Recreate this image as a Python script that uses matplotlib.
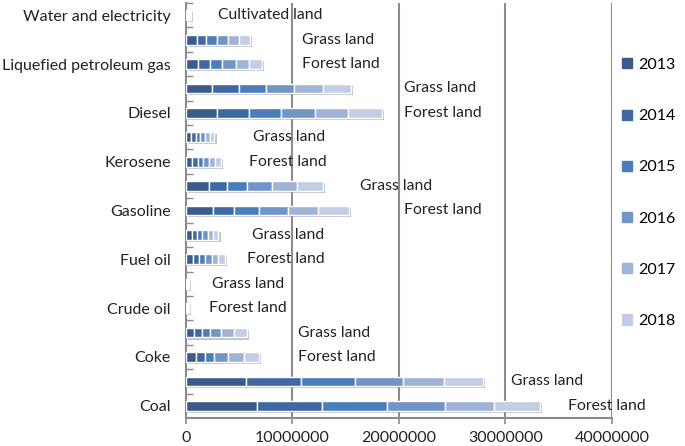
import matplotlib
matplotlib.use('Agg')
import matplotlib.pyplot as plt
import matplotlib.patheffects as pe
from matplotlib.patches import Rectangle
from matplotlib.ticker import FuncFormatter, MultipleLocator

plt.rcParams['font.family'] = ['Lato', 'DejaVu Sans']

# bars from top to bottom (one row each)
bar_category = ['Water and electricity',
                'Liquefied petroleum gas', 'Liquefied petroleum gas',
                'Diesel', 'Diesel', 'Kerosene', 'Kerosene',
                'Gasoline', 'Gasoline', 'Fuel oil', 'Fuel oil',
                'Crude oil', 'Crude oil', 'Coke', 'Coke', 'Coal', 'Coal']
bar_land = ['Cultivated land'] + ['Grass land', 'Forest land'] * 8

years = ['2013', '2014', '2015', '2016', '2017', '2018']

# values in millions, per year
v2013 = [0.09, 1.00, 1.16, 2.47, 2.91, 0.50, 0.60, 2.16, 2.50, 0.55, 0.65, 0.04, 0.05, 0.75, 0.94, 5.63, 6.67]
v2014 = [0.08, 0.87, 1.10, 2.50, 3.00, 0.42, 0.50, 1.72, 2.04, 0.48, 0.58, 0.04, 0.05, 0.75, 0.85, 5.16, 6.10]
v2015 = [0.08, 1.00, 1.10, 2.50, 3.00, 0.42, 0.50, 1.88, 2.29, 0.50, 0.60, 0.04, 0.05, 0.75, 0.85, 5.07, 6.10]
v2016 = [0.08, 1.03, 1.34, 2.69, 3.19, 0.44, 0.55, 2.35, 2.79, 0.50, 0.60, 0.04, 0.05, 1.03, 1.27, 4.50, 5.45]
v2017 = [0.08, 1.03, 1.19, 2.66, 3.13, 0.44, 0.55, 2.32, 2.82, 0.50, 0.60, 0.04, 0.05, 1.22, 1.50, 3.85, 4.60]
v2018 = [0.08, 1.06, 1.25, 2.63, 3.19, 0.45, 0.56, 2.41, 2.88, 0.52, 0.62, 0.04, 0.05, 1.22, 1.41, 3.66, 4.30]

# where the land labels sit (millions)
label_x = [3.0, 10.86, 10.86, 20.47, 20.47, 6.26, 5.92, 16.34, 20.47,
           6.2, 5.7, 2.47, 2.16, 10.54, 10.54, 30.5, 35.9]

colors = ['#3A5B8C', '#3F69A2', '#4A7EBB', '#7295C8', '#9FB3D6', '#C3CEE5']

series = [v2013, v2014, v2015, v2016, v2017, v2018]
n = len(bar_category)
pos = list(range(n))

fig = plt.figure(figsize=(6.85, 4.46), dpi=100)
ax = fig.add_axes([186 / 685, 1 - 418 / 446, 426 / 685, 415 / 446])

shadow = [pe.SimplePatchShadow(offset=(1.5, -1.5), shadow_rgbFace='#777777', alpha=0.45), pe.Normal()]
left = [0.0] * n
for vals, c, yr in zip(series, colors, years):
    w = [v * 1e6 for v in vals]
    bars = ax.barh(pos, w, left=left, height=0.4, color=c, edgecolor='white',
                   linewidth=1.0, label=yr, zorder=3)
    for b in bars:
        b.set_path_effects(shadow)
    left = [l + x for l, x in zip(left, w)]

for i in range(n):
    ax.text(label_x[i] * 1e6, pos[i], bar_land[i], va='center', ha='left',
            fontsize=11.3, color='#222222', zorder=4)

ax.set_ylim(n - 0.5, -0.5)
ax.set_xlim(0, 40000000)
ax.xaxis.set_major_locator(MultipleLocator(10000000))
ax.xaxis.set_major_formatter(FuncFormatter(lambda v, p: f'{int(v)}'))

# category labels on the forest / single rows
tick_pos = [0] + list(range(2, n, 2))
ax.set_yticks(tick_pos)
ax.set_yticklabels([bar_category[i] for i in tick_pos])
ax.set_yticks([p - 0.5 for p in range(n)], minor=True)
ax.tick_params(axis='y', which='major', length=0, pad=11, labelsize=11.5, labelcolor='#222222')
ax.tick_params(axis='y', which='minor', direction='in', length=5, color='#8C8C8C', width=1)
ax.tick_params(axis='x', length=4, color='#8C8C8C', width=1.2, pad=5, labelsize=11.5, labelcolor='#222222')

ax.grid(axis='x', color='#8C8C8C', linewidth=1.5, zorder=1)
for s in ['top', 'right']:
    ax.spines[s].set_visible(False)
for s in ['left', 'bottom']:
    ax.spines[s].set_color('#8C8C8C')
    ax.spines[s].set_linewidth(1.5)

handles = [Rectangle((0, 0), 1, 1, color=c) for c in colors]
fig.legend(handles, years, loc='upper left', bbox_to_anchor=(622 / 685, 1 - 58 / 446),
           frameon=False, fontsize=11.5, handlelength=0.6, handleheight=0.6,
           handletextpad=0.4, labelspacing=2.33, borderaxespad=0, borderpad=0)

fig.savefig('out.png', dpi=100)
